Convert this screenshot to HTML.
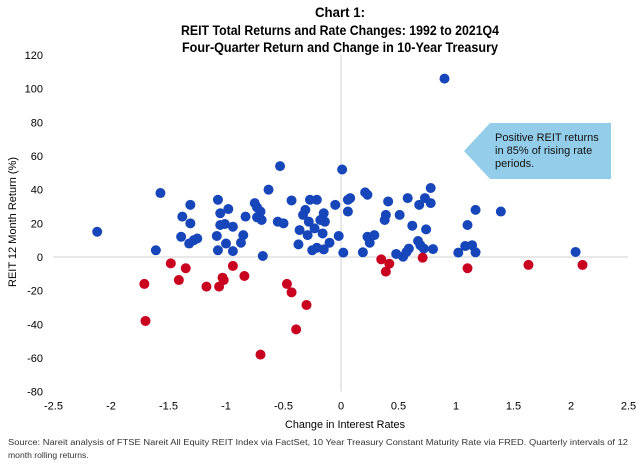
<!DOCTYPE html>
<html><head><meta charset="utf-8"><style>
body{margin:0;background:#fff;font-family:"Liberation Sans",Arial,sans-serif;}
svg text{font-family:"Liberation Sans",Arial,sans-serif;}
</style></head><body>
<svg id="chart" width="640" height="470" viewBox="0 0 640 470" xmlns="http://www.w3.org/2000/svg">
<g font-weight="bold" font-size="13.5" text-anchor="middle" fill="#000">
<text x="340" y="17" textLength="50" lengthAdjust="spacingAndGlyphs">Chart 1:</text>
<text x="340" y="35" textLength="318" lengthAdjust="spacingAndGlyphs">REIT Total Returns and Rate Changes: 1992 to 2021Q4</text>
<text x="340" y="52" textLength="316" lengthAdjust="spacingAndGlyphs">Four-Quarter Return and Change in 10-Year Treasury</text>
</g>
<g id="axes"></g>
<g id="marks"></g>
<g>
<polygon points="464,151 490,123 611,123 611,179 490,179" fill="#94cde9"/>
<text x="495" y="141" font-size="11" fill="#111">Positive REIT returns</text>
<text x="495" y="154" font-size="11" fill="#111">in 85% of rising rate</text>
<text x="495" y="167" font-size="11" fill="#111">periods.</text>
</g>
<text x="345" y="428" font-size="11" text-anchor="middle" textLength="120" lengthAdjust="spacingAndGlyphs">Change in Interest Rates</text>
<text transform="translate(16,222) rotate(-90)" font-size="11" text-anchor="middle">REIT 12 Month Return (%)</text>
<g font-size="8.6" fill="#333">
<text x="8" y="445" textLength="620" lengthAdjust="spacingAndGlyphs">Source: Nareit analysis of FTSE Nareit All Equity REIT Index via FactSet, 10 Year Treasury Constant Maturity Rate via FRED. Quarterly intervals of 12</text>
<text x="8" y="458">month rolling returns.</text>
</g>
</svg>
<script>
const xTicks=[-2.5,-2,-1.5,-1,-0.5,0,0.5,1,1.5,2,2.5];
const yTicks=[120,100,80,60,40,20,0,-20,-40,-60,-80];
const blueX=[-2.12,-1.57,-1.61,-1.31,-1.38,-1.31,-1.39,-1.32,-1.25,-1.28,-1.07,-1.05,-0.98,-1.05,-1.01,-0.94,-1.08,-1.00,-1.07,-0.94,-0.85,-0.87,-0.83,-0.63,-0.53,-0.75,-0.73,-0.70,-0.73,-0.69,-0.68,-0.55,-0.50,-0.43,-0.31,-0.33,-0.27,-0.21,-0.15,-0.14,-0.18,-0.28,-0.36,-0.23,-0.29,-0.16,-0.37,-0.10,-0.02,-0.25,-0.21,-0.15,-0.05,0.01,0.02,0.06,0.06,0.90,0.08,0.21,0.23,0.19,0.41,0.39,0.38,0.51,0.58,0.68,0.73,0.78,0.78,0.62,0.74,0.23,0.29,0.25,0.67,0.69,0.59,0.48,0.54,0.57,0.72,0.80,1.02,1.08,1.14,1.17,1.10,1.17,1.39,2.04];
const blueY=[15,38,4,31,24,20,12,8,11,10,34,26,28.5,19,19.6,18,12.5,8,4,3.5,13,8.5,24,40,54,32,29.5,27,23.6,22,0.6,21,20,33.6,28,25,34,34,26,21,22,21,16,17,13,14,7.5,8.5,12.5,4,5.5,4.5,31,52,2.6,34,27,106,35,38.4,37,2.8,33,25,22,25,35,31,35,32,41,18.6,16.4,12,13,8.5,9.5,7,5,1.8,0.2,3,5,4.7,2.6,6.5,7,2.8,19,28,27,3];
const redX=[-1.48,-1.35,-1.41,-1.71,-1.70,-1.17,-1.06,-1.03,-1.02,-0.94,-0.84,-0.47,-0.43,-0.30,-0.39,-0.70,0.35,0.42,0.39,0.71,1.10,1.63,2.10];
const redY=[-3.8,-6.7,-13.7,-16,-38,-17.6,-17.6,-12.3,-13.7,-5.3,-11.3,-16,-21,-28.5,-43,-58,-1.4,-4,-8.7,-0.4,-6.7,-4.7,-4.7];
const NS='http://www.w3.org/2000/svg';
const sx=v=>341+v*115;
const sy=v=>257-v*1.683;
function mk(tag,attrs,parent){const e=document.createElementNS(NS,tag);for(const k in attrs)e.setAttribute(k,attrs[k]);parent.appendChild(e);return e;}
const axes=document.getElementById('axes');
const hl=mk('line',{x1:sx(-2.5),x2:sx(2.5),y1:sy(0),y2:sy(0),stroke:'#d0d0d0','stroke-width':1},axes);


const vl=mk('line',{x1:sx(0),x2:sx(0),y1:sy(120),y2:sy(-80),stroke:'#d0d0d0','stroke-width':1},axes);


xTicks.forEach(t=>{const e=mk('text',{x:sx(t),y:sy(-80)+18,'font-size':11,'text-anchor':'middle'},axes);e.textContent=t;

});
yTicks.forEach(t=>{const e=mk('text',{x:43,y:sy(t)+4,'font-size':11,'text-anchor':'end'},axes);e.textContent=t;

});
const marks=document.getElementById('marks');
blueX.forEach((x,i)=>{const c=mk('circle',{cx:sx(x),cy:sy(blueY[i]),r:5,fill:'#1646b9'},marks);

});
redX.forEach((x,i)=>{const c=mk('circle',{cx:sx(x),cy:sy(redY[i]),r:5,fill:'#c9001f'},marks);

});
</script>
</body></html>
